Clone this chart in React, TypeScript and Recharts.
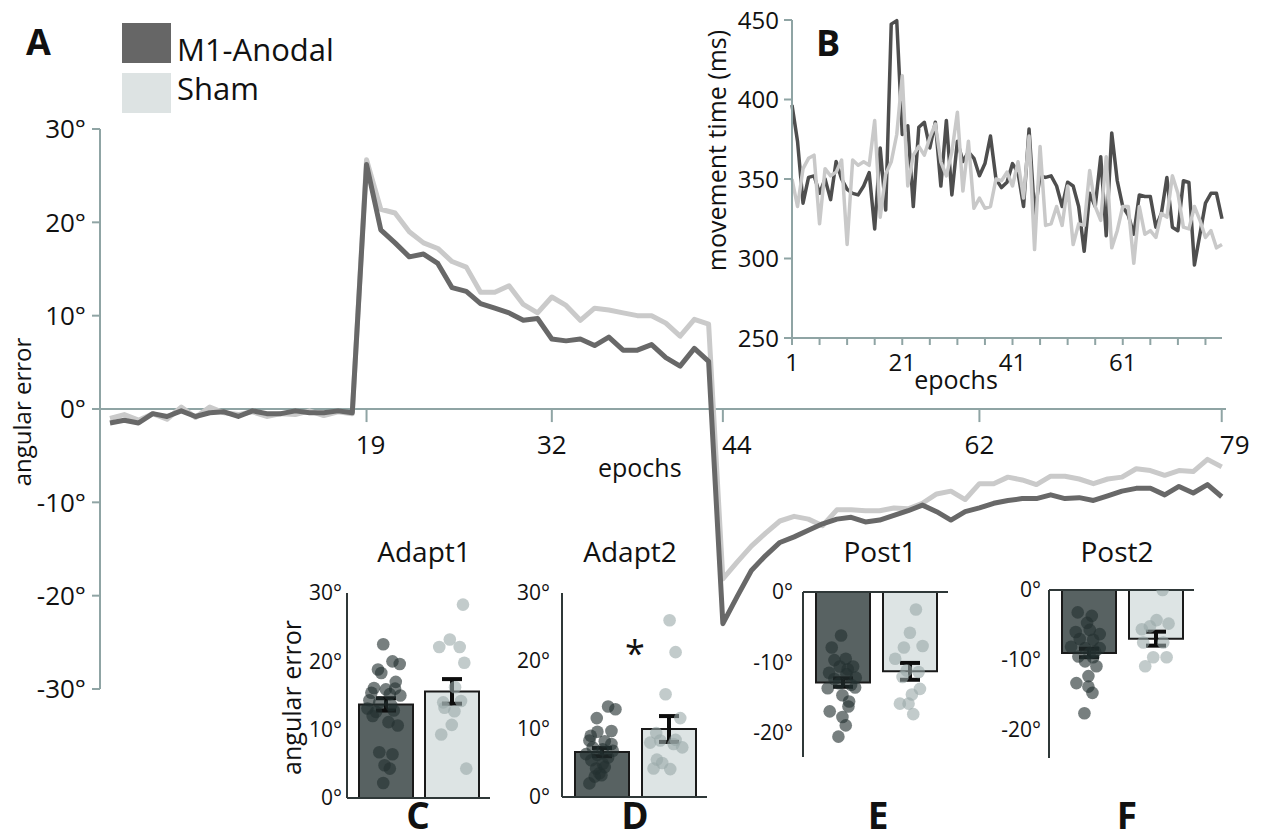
import React from 'react';
import {
  LineChart, Line, XAxis, YAxis, ReferenceLine,
  ComposedChart, Bar, Scatter, ErrorBar, Cell,
} from 'recharts';

const FONT = "'Open Sans', sans-serif";
const AXIS = '#8fa4a4';
const INK = '#111111';

// ---------- Panel A: angular error per epoch ----------
const epochNumbers = Array.from({ length: 79 }, (_, i) => i + 1);
const anodalError = [
  -1.5, -1.2, -1.5, -0.5, -0.8, -0.2, -0.8, -0.4, -0.3, -0.8, -0.2, -0.5, -0.5, -0.2, -0.4, -0.4, -0.2, -0.4,
  26.2, 19.2, 17.8, 16.3, 16.6, 15.6, 13.0, 12.6, 11.3, 10.8, 10.3, 9.5, 9.7, 7.5, 7.3, 7.5, 6.8, 7.7, 6.3, 6.3, 6.9, 5.5, 4.6, 6.5, 5.1,
  -23.0, -20.1, -17.3, -15.7, -14.3, -13.7, -13.0, -12.3, -11.8, -11.6, -12.1, -11.9, -11.4, -10.9, -10.3, -11.0, -11.9, -11.0,
  -10.6, -10.1, -9.8, -9.6, -9.6, -9.2, -9.6, -9.5, -9.8, -9.3, -8.8, -8.5, -8.5, -9.2, -8.3, -9.0, -8.1, -9.4,
];
const shamError = [
  -1.0, -0.6, -1.2, -0.5, -1.1, 0.2, -0.9, 0.2, -0.4, -0.6, -0.3, -0.8, -0.5, -0.6, -0.2, -0.7, -0.3, -0.5,
  26.7, 21.4, 21.0, 19.0, 17.8, 17.2, 15.8, 15.2, 12.5, 12.5, 13.2, 11.2, 10.3, 12.0, 11.1, 9.5, 10.8, 10.6, 10.3, 10.0, 10.0, 9.2, 7.8, 9.6, 9.1,
  -18.2, -16.4, -14.7, -13.3, -12.0, -11.5, -11.8, -12.5, -10.8, -10.8, -10.9, -10.9, -10.6, -10.7, -10.1, -9.1, -8.8, -9.7,
  -8.0, -8.0, -7.3, -7.6, -8.1, -7.2, -7.2, -7.5, -8.0, -7.5, -7.3, -6.4, -6.6, -7.1, -6.6, -6.7, -5.4, -6.2,
];
const mainXTicks = [19, 32, 44, 62, 79];
const mainXTickShift = [4, 0, 14, 0, 13];
const mainYTicks = [-30, -20, -10, 0, 10, 20, 30];

// ---------- Panel B: movement time ----------
const mtAnodal = [
  396.5, 373.8, 334.8, 351, 352, 341, 350, 337, 361, 350,
  343.5, 341, 340, 345.6, 354, 318.6, 369.5, 330.5, 447.4, 449.6,
  378, 383.5, 332.7, 382.5, 385.7, 369.5, 385.7, 345.6, 386.8, 340,
  373.8, 361, 367, 363, 352, 359.7, 377, 350, 344.6, 348,
  359.7, 354, 332.7, 381.4, 328, 352, 351, 352, 345.6, 332.7,
  348, 345.6, 332.7, 304.5, 341, 332.7, 364, 314.3, 379, 348.9,
  332.7, 327.2, 315.3, 340, 339, 339, 319.7, 328.3, 351, 319.7,
  317.5, 348.9, 347.8, 295.9, 315.3, 334.8, 341, 341, 325,
];
const mtSham = [
  350, 332.7, 356.5, 363, 365, 321.8, 356.5, 352, 354.3, 361.9,
  308.8, 361.9, 358.6, 360.8, 358.6, 386.8, 326, 353.2, 360.8, 378,
  415, 345.6, 365, 370.5, 365, 376, 384.6, 360.8, 352, 367,
  392, 342.4, 373.8, 331.6, 338, 331.6, 332.7, 350, 348.9, 354.3,
  345.6, 360.8, 338, 377, 305.6, 370.5, 320.8, 321.8, 332.7, 320.8,
  345.6, 308.8, 321.8, 320.8, 355.4, 332.7, 324, 364, 306.7, 317.5,
  332.7, 332.7, 297, 332.7, 315.3, 317.5, 313.2, 328.3, 326, 352,
  341, 319.7, 318.6, 332.7, 324, 313.2, 317.5, 306.7, 308.8,
];
const bXTicks = [1, 6, 11, 16, 21, 26, 31, 36, 41, 46, 51, 56, 61, 66, 71, 76];
const bXLabels = [1, 21, 41, 61];
const bYTicks = [250, 300, 350, 400, 450];

// ---------- Panels C-F: group means, SEM, individual subjects ----------
const groupNames = ['M1-Anodal', 'Sham'];
const groupPositions = [1, 2];
const adapt1Mean = [13.7, 15.6];
const adapt1Sem = [0.9, 1.8];
const adapt2Mean = [6.6, 10.0];
const adapt2Sem = [0.6, 1.9];
const post1Mean = [-12.9, -11.3];
const post1Sem = [0.6, 1.2];
const post2Mean = [-9.0, -6.95];
const post2Sem = [0.6, 1.0];

// [jitter offset from group centre, value]
const adapt1Anodal = [
  [-0.04, 22.5], [0.10, 20.0], [0.21, 19.6], [-0.12, 18.8], [-0.07, 18.3], [0.15, 17.0], [-0.18, 16.1], [0.0, 15.9],
  [0.14, 16.0], [-0.22, 15.4], [0.06, 15.2], [0.22, 15.0], [-0.25, 14.3], [-0.1, 14.0], [0.08, 13.6], [-0.28, 13.1],
  [-0.15, 12.6], [0.12, 12.8], [-0.2, 12.0], [0.04, 11.1], [0.18, 10.6], [-0.1, 6.7], [0.1, 6.4], [-0.02, 4.8], [0.06, 4.3], [-0.04, 2.2],
];
const adapt1Sham = [
  [0.17, 28.3], [-0.03, 23.2], [-0.19, 22.1], [0.12, 22.1], [0.19, 19.8], [0.05, 16.2], [-0.13, 14.0], [0.14, 14.2],
  [-0.11, 13.2], [0.04, 12.7], [0.0, 10.7], [-0.16, 9.3], [0.22, 4.3],
];
const adapt2Anodal = [
  [0.1, 13.3], [0.21, 12.9], [-0.07, 11.6], [-0.06, 9.6], [0.15, 9.7], [-0.16, 9.0], [-0.18, 8.3], [0.05, 8.2],
  [0.15, 7.8], [-0.13, 7.3], [0.02, 7.0], [0.17, 6.8], [-0.23, 6.3], [-0.06, 6.2], [0.1, 5.8], [-0.15, 5.4],
  [0.02, 4.9], [-0.08, 4.2], [0.05, 4.4], [-0.03, 3.5], [-0.1, 3.0], [0.0, 3.2], [-0.18, 2.0],
];
const adapt2Sham = [
  [0.02, 26.0], [0.11, 21.3], [-0.04, 15.1], [0.18, 11.6], [-0.18, 9.4], [-0.27, 8.0], [-0.12, 8.3], [0.08, 7.8],
  [0.21, 7.3], [-0.17, 5.5], [-0.09, 5.0], [-0.22, 4.2], [0.03, 4.1], [0.11, 8.4],
];
const post1Anodal = [
  [-0.02, -6.2], [-0.16, -7.9], [0.05, -9.5], [-0.12, -9.7], [0.16, -10.6], [-0.04, -10.6], [-0.2, -11.5], [0.06, -11.7],
  [0.2, -12.2], [-0.12, -12.4], [0.13, -13.2], [-0.22, -13.7], [0.19, -13.6], [0.0, -14.7], [0.1, -15.6], [0.09, -16.3],
  [-0.19, -17.0], [0.0, -17.8], [0.05, -19.0], [-0.06, -20.6], [-0.05, -13.0], [0.08, -11.0],
];
const post1Sham = [
  [0.1, -2.5], [0.01, -5.8], [-0.08, -7.9], [0.2, -7.7], [-0.21, -9.5], [-0.04, -11.2], [-0.1, -12.1], [0.14, -11.4],
  [0.16, -13.8], [0.04, -14.6], [-0.14, -15.9], [-0.01, -15.9], [0.06, -17.4],
];
const post2Anodal = [
  [-0.16, -3.2], [0.05, -3.7], [-0.02, -4.7], [0.02, -5.7], [-0.19, -6.0], [0.17, -6.3], [-0.13, -7.0], [0.07, -7.1],
  [-0.26, -8.1], [-0.05, -8.3], [0.17, -8.3], [0.02, -9.0], [-0.15, -9.5], [0.07, -9.6], [-0.05, -10.2], [0.12, -10.9],
  [0.0, -12.3], [-0.18, -13.3], [0.0, -13.8], [0.06, -14.7], [-0.06, -17.6], [0.1, -8.8],
];
const post2Sham = [
  [0.11, 0.0], [0.02, -4.3], [0.2, -4.8], [-0.2, -5.6], [-0.08, -5.2], [-0.18, -7.5], [0.12, -7.5], [-0.03, -9.6],
  [0.17, -9.6], [-0.15, -10.9],
];

const mainData = epochNumbers.map((epoch, i) => ({ epoch, anodal: anodalError[i], sham: shamError[i] }));
const mtData = epochNumbers.map((epoch, i) => ({ epoch, anodal: mtAnodal[i], sham: mtSham[i] }));

const deg = (v: number) => `${v}°`;

function Txt({ x, y, size, bold = false, anchor = 'start', children }: any) {
  const style: React.CSSProperties = {
    position: 'absolute', top: y - 0.888 * size, fontSize: size, lineHeight: `${size}px`,
    fontFamily: FONT, fontWeight: bold ? 700 : 400, color: INK, whiteSpace: 'nowrap',
  };
  if (anchor === 'middle') { style.left = x - 300; style.width = 600; style.textAlign = 'center'; }
  else style.left = x;
  return <div style={style}>{children}</div>;
}

function VTxt({ cx, cy, size, children }: any) {
  return (
    <div style={{
      position: 'absolute', left: cx - 200, top: cy - size / 2, width: 400, height: size,
      lineHeight: `${size}px`, fontSize: size, fontFamily: FONT, textAlign: 'center',
      transform: 'rotate(-90deg)', color: INK, whiteSpace: 'nowrap',
    }}>{children}</div>
  );
}

const DARK_BAR = '#586262';
const LIGHT_BAR = '#dde4e4';

function BarPanel({ box, plot, domain, ticks, mean, sem, dark, light, tickMargin }: any) {
  const bars = groupPositions.map((pos, i) => ({ name: groupNames[i], pos, mean: mean[i], sem: sem[i] }));
  const darkDots = dark.map(([o, v]: number[]) => ({ pos: groupPositions[0] + o, v }));
  const lightDots = light.map(([o, v]: number[]) => ({ pos: groupPositions[1] + o, v }));
  const margin = {
    top: plot.top - box.top,
    bottom: box.top + box.height - plot.bottom,
    left: plot.left - box.left - 60,
    right: box.left + box.width - plot.right,
  };
  const plotWidth = plot.right - plot.left;
  const numDomain = [0.41, 2.58];
  const unit = plotWidth / (numDomain[1] - numDomain[0]);
  const padLeft = Math.round((groupPositions[0] - numDomain[0]) * unit - unit / 2);
  const padRight = Math.round(plotWidth - padLeft - 2 * unit);
  const pad = { left: padLeft, right: padRight };
  return (
    <div style={{ position: 'absolute', left: box.left, top: box.top }}>
      <ComposedChart width={box.width} height={box.height} data={bars} margin={margin}>
        <XAxis xAxisId="cat" dataKey="name" type="category" hide padding={pad} />
        <XAxis xAxisId="err" dataKey="name" type="category" hide padding={pad} />
        <XAxis xAxisId="num" dataKey="pos" type="number" domain={numDomain} hide allowDataOverflow />
        <YAxis type="number" domain={domain} ticks={ticks} allowDataOverflow width={60}
          tickFormatter={deg} tickLine={false} tickSize={0} tickMargin={tickMargin}
          axisLine={{ stroke: '#2f3838', strokeWidth: 2 }}
          tick={{ fill: INK, fontSize: 21, fontFamily: FONT }} interval={0} />
        <ReferenceLine xAxisId="num" y={0} stroke="#2f3838" strokeWidth={2} />
        <Bar xAxisId="cat" dataKey="mean" barSize={54} isAnimationActive={false} stroke="#1a1a1a" strokeWidth={2}>
          <Cell fill={DARK_BAR} />
          <Cell fill={LIGHT_BAR} />
        </Bar>
        <Scatter xAxisId="num" data={darkDots} dataKey="v" isAnimationActive={false}
          shape={(p: any) => <circle cx={p.cx} cy={p.cy} r={6.3} fill="#233030" fillOpacity={0.62} />} />
        <Scatter xAxisId="num" data={lightDots} dataKey="v" isAnimationActive={false}
          shape={(p: any) => <circle cx={p.cx} cy={p.cy} r={6.3} fill="#9aa8a8" fillOpacity={0.6} />} />
        <Bar xAxisId="err" dataKey="mean" barSize={54} isAnimationActive={false} fill="none" stroke="none">
          <ErrorBar dataKey="sem" width={10} strokeWidth={4} stroke="#0d0d0d" />
        </Bar>
      </ComposedChart>
    </div>
  );
}

export default function App() {
  return (
    <div style={{ position: 'absolute', left: 0, top: 0, width: 1264, height: 840, background: '#fff', overflow: 'hidden' }}>
      {/* Panel A */}
      <div style={{ position: 'absolute', left: 0, top: 0 }}>
        <LineChart width={1264} height={840} data={mainData} margin={{ top: 129, right: 38, bottom: 151, left: 40 }}>
          <XAxis dataKey="epoch" type="number" domain={[0.3, 79.3]} hide />
          <YAxis type="number" domain={[-30, 30]} ticks={mainYTicks} width={60} tickFormatter={deg}
            axisLine={{ stroke: AXIS, strokeWidth: 2 }} tickLine={{ stroke: AXIS, strokeWidth: 2 }}
            tickSize={8} tickMargin={6} interval={0}
            tick={{ fill: INK, fontSize: 26, fontFamily: FONT }} />
          <ReferenceLine y={0} stroke={AXIS} strokeWidth={2} />
          {mainXTicks.map((t, i) => (
            <ReferenceLine key={t} segment={[{ x: t, y: 0 }, { x: t, y: -1.4 }]} stroke={AXIS} strokeWidth={2}
              label={{ value: String(t), position: 'bottom', offset: 13, dx: mainXTickShift[i], fill: INK, fontSize: 26, fontFamily: FONT }} />
          ))}
          <Line dataKey="sham" type="linear" stroke="#cacaca" strokeWidth={5} dot={false} strokeLinejoin="round" isAnimationActive={false} />
          <Line dataKey="anodal" type="linear" stroke="#686868" strokeWidth={5} dot={false} strokeLinejoin="round" isAnimationActive={false} />
        </LineChart>
      </div>

      {/* Panel B */}
      <div style={{ position: 'absolute', left: 700, top: 0 }}>
        <LineChart width={540} height={400} data={mtData} margin={{ top: 20, right: 18, bottom: 32, left: 32 }}>
          <XAxis dataKey="epoch" type="number" domain={[1, 79]} ticks={bXTicks} interval={0} height={30}
            tickFormatter={(v: number) => (bXLabels.includes(v) ? String(v) : '')}
            axisLine={{ stroke: AXIS, strokeWidth: 2 }} tickLine={{ stroke: AXIS, strokeWidth: 2 }}
            tickSize={7} tickMargin={9} tick={{ fill: INK, fontSize: 24, fontFamily: FONT }} />
          <YAxis type="number" domain={[250, 450]} ticks={bYTicks} width={60} interval={0}
            axisLine={{ stroke: AXIS, strokeWidth: 2 }} tickLine={{ stroke: AXIS, strokeWidth: 2 }}
            tickSize={8} tickMargin={5} tick={{ fill: INK, fontSize: 24, fontFamily: FONT }} />
          <Line dataKey="anodal" type="linear" stroke="#4e4e4e" strokeWidth={3.5} dot={false} strokeLinejoin="round" isAnimationActive={false} />
          <Line dataKey="sham" type="linear" stroke="#c9c9c9" strokeWidth={3.5} dot={false} strokeLinejoin="round" isAnimationActive={false} />
        </LineChart>
      </div>

      {/* Panels C-F */}
      <BarPanel box={{ left: 280, top: 570, width: 220, height: 240 }} plot={{ left: 347, right: 490, top: 593, bottom: 798 }}
        domain={[0, 30]} ticks={[0, 10, 20, 30]} mean={adapt1Mean} sem={adapt1Sem} dark={adapt1Anodal} light={adapt1Sham} tickMargin={5} />
      <BarPanel box={{ left: 495, top: 570, width: 222, height: 240 }} plot={{ left: 562, right: 707, top: 593, bottom: 797 }}
        domain={[0, 30]} ticks={[0, 10, 20, 30]} mean={adapt2Mean} sem={adapt2Sem} dark={adapt2Anodal} light={adapt2Sham} tickMargin={12} />
      <BarPanel box={{ left: 736, top: 570, width: 222, height: 200 }} plot={{ left: 803, right: 948, top: 592, bottom: 757 }}
        domain={[-23.5, 0]} ticks={[-20, -10, 0]} mean={post1Mean} sem={post1Sem} dark={post1Anodal} light={post1Sham} tickMargin={10} />
      <BarPanel box={{ left: 982, top: 570, width: 222, height: 200 }} plot={{ left: 1049, right: 1194, top: 590, bottom: 758 }}
        domain={[-24, 0]} ticks={[-20, -10, 0]} mean={post2Mean} sem={post2Sem} dark={post2Anodal} light={post2Sham} tickMargin={8} />

      {/* Legend */}
      <div style={{ position: 'absolute', left: 122, top: 23, width: 49, height: 40, background: '#666666' }} />
      <div style={{ position: 'absolute', left: 122, top: 73, width: 49, height: 40, background: '#dde3e3' }} />
      <Txt x={177} y={62} size={31}>M1-Anodal</Txt>
      <Txt x={177} y={101} size={31}>Sham</Txt>

      {/* Labels */}
      <Txt x={26} y={56} size={36} bold>A</Txt>
      <Txt x={816} y={57} size={36} bold>B</Txt>
      <VTxt cx={22} cy={412} size={24}>angular error</VTxt>
      <Txt x={598} y={477} size={25}>epochs</Txt>
      <VTxt cx={716} cy={150} size={25}>movement time (ms)</VTxt>
      <Txt x={956} y={389} size={25} anchor="middle">epochs</Txt>
      <VTxt cx={291} cy={697} size={25}>angular error</VTxt>

      <Txt x={424} y={562} size={28} anchor="middle">Adapt1</Txt>
      <Txt x={630} y={562} size={28} anchor="middle">Adapt2</Txt>
      <Txt x={880} y={562} size={28} anchor="middle">Post1</Txt>
      <Txt x={1117} y={562} size={28} anchor="middle">Post2</Txt>
      <Txt x={635} y={667} size={36} anchor="middle">*</Txt>

      <Txt x={418} y={829} size={37} bold anchor="middle">C</Txt>
      <Txt x={635} y={829} size={37} bold anchor="middle">D</Txt>
      <Txt x={878} y={829} size={37} bold anchor="middle">E</Txt>
      <Txt x={1127} y={829} size={37} bold anchor="middle">F</Txt>
    </div>
  );
}
